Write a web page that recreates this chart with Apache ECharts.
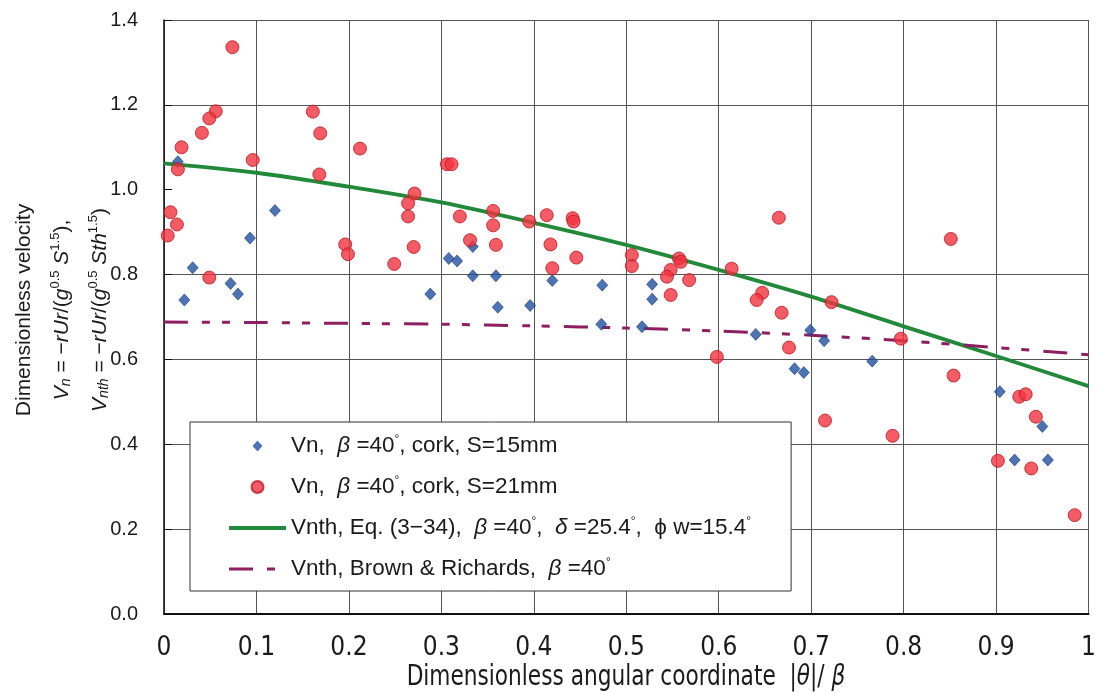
<!DOCTYPE html>
<html>
<head>
<meta charset="utf-8">
<title>Dimensionless velocity vs angular coordinate</title>
<script src="https://cdn.jsdelivr.net/npm/echarts@6/dist/echarts.min.js"></script>
<style>
  html, body { margin: 0; padding: 0; background: #fff; }
  #chart { width: 1099px; height: 693px; }
</style>
</head>
<body>
<div id="chart"></div>
<script>
// Measured Vn, beta = 40 deg, cork, S = 15 mm  [ |theta|/beta , Vn ]
const vnS15 = [
  [0.015, 1.066], [0.031, 0.816], [0.022, 0.740], [0.072, 0.779], [0.080, 0.754],
  [0.093, 0.886], [0.120, 0.951], [0.288, 0.754], [0.308, 0.838], [0.317, 0.832],
  [0.334, 0.866], [0.334, 0.797], [0.359, 0.797], [0.361, 0.723], [0.396, 0.727],
  [0.420, 0.786], [0.474, 0.775], [0.473, 0.683], [0.517, 0.677], [0.528, 0.777],
  [0.528, 0.742], [0.640, 0.659], [0.699, 0.669], [0.714, 0.644], [0.682, 0.578],
  [0.692, 0.569], [0.766, 0.596], [0.904, 0.524], [0.950, 0.442], [0.920, 0.363],
  [0.956, 0.363]
];

// Measured Vn, beta = 40 deg, cork, S = 21 mm
const vnS21 = [
  [0.074, 1.336], [0.056, 1.185], [0.049, 1.168], [0.041, 1.134], [0.019, 1.100],
  [0.015, 1.048], [0.096, 1.070], [0.161, 1.184], [0.169, 1.133], [0.168, 1.036],
  [0.212, 1.097], [0.007, 0.947], [0.014, 0.918], [0.004, 0.892], [0.049, 0.793],
  [0.196, 0.871], [0.199, 0.848], [0.249, 0.825], [0.271, 0.991], [0.264, 0.968],
  [0.264, 0.937], [0.270, 0.865], [0.306, 1.060], [0.311, 1.060], [0.320, 0.937],
  [0.331, 0.881], [0.356, 0.950], [0.356, 0.916], [0.359, 0.870], [0.395, 0.925],
  [0.414, 0.940], [0.418, 0.871], [0.420, 0.815], [0.442, 0.933], [0.443, 0.925],
  [0.446, 0.840], [0.506, 0.846], [0.506, 0.820], [0.557, 0.838], [0.559, 0.830],
  [0.548, 0.811], [0.544, 0.795], [0.568, 0.787], [0.548, 0.752], [0.614, 0.814],
  [0.598, 0.606], [0.665, 0.934], [0.647, 0.757], [0.641, 0.740], [0.668, 0.710],
  [0.722, 0.735], [0.676, 0.628], [0.797, 0.649], [0.851, 0.884], [0.715, 0.456],
  [0.788, 0.420], [0.854, 0.562], [0.925, 0.512], [0.932, 0.518], [0.943, 0.465],
  [0.902, 0.361], [0.938, 0.343], [0.985, 0.233]
];

// Theoretical curves sampled along |theta|/beta
const thetaRatio = [0, 0.1, 0.2, 0.3, 0.4, 0.5, 0.6, 0.7, 0.8, 0.9, 1.0];
const vnthEq334 = [1.062, 1.040, 1.007, 0.970, 0.922, 0.870, 0.811, 0.748, 0.678, 0.608, 0.537];
const vnthBrownRichards = [0.688, 0.687, 0.685, 0.683, 0.679, 0.674, 0.667, 0.657, 0.644, 0.628, 0.611];

// Tick labels
const xTickLabels = ['0', '0.1', '0.2', '0.3', '0.4', '0.5', '0.6', '0.7', '0.8', '0.9', '1'];
const yTickLabels = ['0.0', '0.2', '0.4', '0.6', '0.8', '1.0', '1.2', '1.4'];

// Series names and their rich-text legend labels
const seriesNames = [
  'Vn, beta=40, cork, S=15mm',
  'Vn, beta=40, cork, S=21mm',
  'Vnth, Eq. (3-34)',
  'Vnth, Brown & Richards'
];
const legendLabels = [
  'Vn,  {g|β} =40{d|°}, cork, S=15mm',
  'Vn,  {g|β} =40{d|°}, cork, S=21mm',
  'Vnth, Eq. (3−34),  {g|β} =40{d|°},  {g|δ} =25.4{d|°},  ϕ w=15.4{d|°}',
  'Vnth, Brown & Richards,  {g|β} =40{d|°}'
];

const SANS = '"Liberation Sans", Arial, sans-serif';
const NARROW = '"Liberation Sans Narrow", "DejaVu Sans Condensed", "Liberation Sans", sans-serif';
const INK = '#1a1a1a';
const GREEN = '#23893a';
const PLUM = '#8c1f5f';
const DASH_DOT_DOT = [24, 14, 8, 12, 8, 14];

// Legend diamond: small rhombus centred in the 57x12 icon box; the two
// zero-area sub-paths pin the bounding box so the rhombus is not stretched.
const LEGEND_DIAMOND = 'path://M23.5,6L28.5,0.5L33.5,6L28.5,11.5Z M0,0L0.001,0Z M57,12L56.999,12Z';

const pairs = (xs, ys) => xs.map((x, i) => [x, ys[i]]);

const chart = echarts.init(document.getElementById('chart'), null, { renderer: 'canvas' });

chart.setOption({
  backgroundColor: '#ffffff',
  animation: false,
  grid: { left: 164, right: 9, top: 20, bottom: 79, containLabel: false },
  xAxis: {
    type: 'value',
    min: 0, max: 1, interval: 0.1,
    axisLine: { show: true, onZero: false, lineStyle: { color: '#111', width: 2 } },
    axisTick: { show: false },
    splitLine: { show: true, lineStyle: { color: '#555555', width: 1 } },
    axisLabel: {
      margin: 21,
      fontFamily: NARROW, fontSize: 26, color: INK,
      formatter: v => xTickLabels[Math.round(v * 10)]
    }
  },
  yAxis: {
    type: 'value',
    min: 0, max: 1.4, interval: 0.2,
    axisLine: { show: true, onZero: false, lineStyle: { color: '#111', width: 1.5 } },
    axisTick: { show: true, inside: true, length: 8, lineStyle: { color: '#111', width: 1 } },
    splitLine: {
      show: true,
      lineStyle: {
        // no rule drawn at 1.0
        color: ['#555555', '#555555', '#555555', '#555555', '#555555', 'rgba(0,0,0,0)', '#555555', '#555555'],
        width: 1
      }
    },
    axisLabel: {
      margin: 26,
      fontFamily: SANS, fontSize: 20, color: INK,
      formatter: v => yTickLabels[Math.round(v * 5)]
    }
  },
  legend: {
    orient: 'vertical',
    left: 190, top: 422,
    padding: [12, 40, 10, 37],
    itemWidth: 57, itemHeight: 12, itemGap: 17,
    backgroundColor: '#ffffff',
    borderColor: '#333333', borderWidth: 1,
    data: [
      { name: seriesNames[0], icon: LEGEND_DIAMOND, itemStyle: { borderWidth: 0 } },
      { name: seriesNames[1], icon: 'circle' },
      { name: seriesNames[2], itemStyle: { opacity: 0 }, lineStyle: { width: 4, color: GREEN } },
      { name: seriesNames[3], itemStyle: { opacity: 0 }, lineStyle: { width: 3, color: PLUM, type: DASH_DOT_DOT } }
    ],
    formatter: name => legendLabels[seriesNames.indexOf(name)],
    textStyle: {
      fontFamily: SANS, fontSize: 22.5, color: INK, lineHeight: 24,
      rich: {
        g: { fontFamily: SANS, fontSize: 22.5, fontStyle: 'italic', color: INK, lineHeight: 24 },
        d: { fontFamily: SANS, fontSize: 12, color: INK, lineHeight: 14, verticalAlign: 'top' }
      }
    }
  },
  graphic: [
    {
      // y-axis title block, reads bottom to top
      type: 'text',
      x: 62, y: 310,
      rotation: Math.PI / 2,
      style: {
        text: [
          '{t|Dimensionless velocity}',
          '{i|V}{sub|n}{t| = −}{i|rUr}{t|/(}{i|g}{sup|0.5}{t| }{i|S}{sup|1.5}{t|),}',
          '{i|V}{sub|nth}{t| = −}{i|rUr}{t|/(}{i|g}{sup|0.5}{t| }{i|Sth}{sup|1.5}{t|)}'
        ].join('\n'),
        align: 'center',
        verticalAlign: 'middle',
        fill: INK,
        rich: {
          t: { fontFamily: SANS, fontSize: 21, lineHeight: 38, fill: INK },
          i: { fontFamily: SANS, fontSize: 21, fontStyle: 'italic', lineHeight: 38, fill: INK },
          // padding shifts the small glyphs off the line's middle
          sub: { fontFamily: SANS, fontSize: 14, fontStyle: 'italic', padding: [9, 0, 0, 0], fill: INK },
          sup: { fontFamily: SANS, fontSize: 13, padding: [0, 0, 13, 0], fill: INK }
        }
      }
    },
    {
      // x-axis title
      type: 'text',
      x: 626, y: 678,
      scaleX: 0.86,
      style: {
        text: 'Dimensionless angular coordinate  |{i|θ}|/ {i|β}',
        align: 'center',
        verticalAlign: 'middle',
        fill: INK,
        font: '28px ' + NARROW,
        rich: {
          i: { fontFamily: NARROW, fontSize: 28, fontStyle: 'italic', fill: INK }
        }
      }
    }
  ],
  series: [
    {
      name: seriesNames[2],
      type: 'line',
      data: pairs(thetaRatio, vnthEq334),
      smooth: 0.3,
      symbol: 'none',
      z: 2,
      color: GREEN,
      lineStyle: { color: GREEN, width: 3.8 }
    },
    {
      name: seriesNames[3],
      type: 'line',
      data: pairs(thetaRatio, vnthBrownRichards),
      smooth: 0.3,
      symbol: 'none',
      z: 2,
      color: PLUM,
      lineStyle: { color: PLUM, width: 3, type: DASH_DOT_DOT }
    },
    {
      name: seriesNames[0],
      type: 'scatter',
      data: vnS15,
      symbol: 'diamond',
      symbolSize: [11, 12],
      z: 3,
      itemStyle: { color: '#2150a0', borderColor: '#173c7c', borderWidth: 0.8 }
    },
    {
      name: seriesNames[1],
      type: 'scatter',
      data: vnS21,
      symbol: 'circle',
      symbolSize: 13,
      z: 3,
      itemStyle: { color: '#f2323e', borderColor: '#b81c26', borderWidth: 1 }
    }
  ]
});
</script>
</body>
</html>
